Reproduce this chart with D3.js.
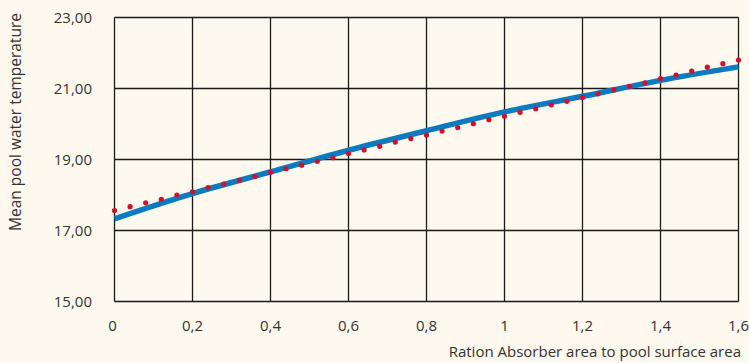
<!DOCTYPE html>
<html>
<head>
<meta charset="utf-8">
<script src="https://cdn.jsdelivr.net/npm/d3@7"></script>
<style>
  body { margin: 0; background: #fef9ee; }
  svg { display: block; }
  text { font-family: "Open Sans", sans-serif; fill: #333; }
</style>
</head>
<body>
<script>
// ratio absorber area / pool surface area
var xTicks = [0, 0.2, 0.4, 0.6, 0.8, 1, 1.2, 1.4, 1.6];
var yTicks = [15, 17, 19, 21, 23];

// blue curve (read at every 0.2)
var lineX = [0, 0.2, 0.4, 0.6, 0.8, 1, 1.2, 1.4, 1.6];
var lineY = [17.33, 18.04, 18.65, 19.26, 19.81, 20.34, 20.78, 21.23, 21.61];

// red dotted series, step 0.04
var dotX = d3.range(41).map(i => +(i * 0.04).toFixed(2));
var dotY = [17.56, 17.67, 17.78, 17.88, 18.00, 18.09, 18.21, 18.31, 18.41,
  18.52, 18.64, 18.74, 18.84, 18.95, 19.05, 19.17, 19.27, 19.37, 19.49, 19.59,
  19.69, 19.80, 19.90, 20.01, 20.12,
  20.22, 20.33, 20.43, 20.54, 20.64, 20.75, 20.85, 20.96, 21.06, 21.16, 21.28,
  21.38, 21.49, 21.60, 21.70, 21.80];

var width = 749, height = 363;
var margin = {top: 17.5, right: 10.5, bottom: 61.5, left: 114.5};

var svg = d3.select("body").append("svg")
  .attr("width", width)
  .attr("height", height);

var x = d3.scaleLinear()
  .domain([0, 1.6])
  .range([margin.left, width - margin.right]);

var y = d3.scaleLinear()
  .domain([15, 23])
  .range([height - margin.bottom, margin.top]);

// grid
svg.append("g")
  .selectAll("line.v")
  .data(xTicks)
  .enter().append("line")
  .attr("x1", d => x(d)).attr("x2", d => x(d))
  .attr("y1", y(15)).attr("y2", y(23))
  .style("stroke", "#1a1a1a")
  .style("stroke-width", 1.3);

svg.append("g")
  .selectAll("line.h")
  .data(yTicks)
  .enter().append("line")
  .attr("x1", x(0)).attr("x2", x(1.6))
  .attr("y1", d => y(d)).attr("y2", d => y(d))
  .style("stroke", "#1a1a1a")
  .style("stroke-width", 1.3);

// tick labels
svg.append("g")
  .selectAll("text")
  .data(yTicks)
  .enter().append("text")
  .attr("x", 92)
  .attr("y", d => y(d))
  .attr("dy", "0.35em")
  .style("text-anchor", "end")
  .style("font-size", "15px")
  .text(d => d3.format(".2f")(d).replace(".", ","));

svg.append("g")
  .selectAll("text")
  .data(xTicks)
  .enter().append("text")
  .attr("x", d => x(d) - (d == 0 ? 2 : 0))
  .attr("y", 331)
  .style("text-anchor", "middle")
  .style("font-size", "15px")
  .text(d => String(d).replace(".", ","));

// axis titles
svg.append("text")
  .attr("x", 741)
  .attr("y", 357)
  .style("text-anchor", "end")
  .style("font-size", "15px")
  .text("Ration Absorber area to pool surface area");

svg.append("text")
  .attr("transform", "translate(21," + 122 + ") rotate(-90)")
  .style("text-anchor", "middle")
  .style("font-size", "15.5px")
  .text("Mean pool water temperature");

// blue line
var lineData = lineX.map((d, i) => ({x: d, y: lineY[i]}));
svg.append("path")
  .datum(lineData)
  .attr("d", d3.line().x(d => x(d.x)).y(d => y(d.y)).curve(d3.curveNatural))
  .style("fill", "none")
  .style("stroke", "#0a7bc1")
  .style("stroke-width", 5.5);

// red dots
svg.append("g")
  .selectAll("circle")
  .data(dotX.map((d, i) => ({x: d, y: dotY[i]})))
  .enter().append("circle")
  .attr("cx", d => x(d.x))
  .attr("cy", d => y(d.y))
  .attr("r", 2.6)
  .style("fill", "#d0112b");
</script>
</body>
</html>
